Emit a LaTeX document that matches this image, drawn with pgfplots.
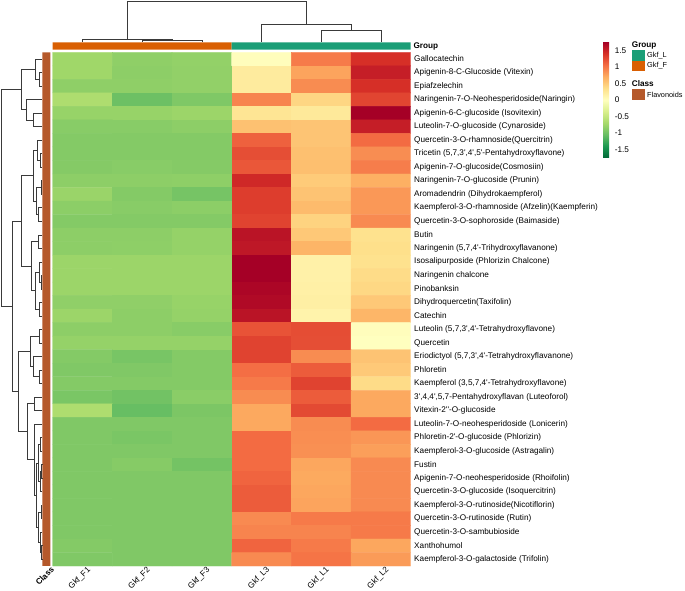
\documentclass[border=0pt]{standalone}
\usepackage{fontspec}
\setmainfont{Liberation Sans}[Ligatures=TeXOff]
\usepackage{pgfplots}
\usepackage{pgfplotstable}
\pgfplotsset{compat=1.18}

\definecolor{grpF}{HTML}{D95F02}
\definecolor{grpL}{HTML}{1B9E77}
\definecolor{clsF}{HTML}{B5592B}
\definecolor{dend}{HTML}{3A3A3A}

\newcommand{\lab}{\fontsize{8.2}{9.5}\selectfont}
\newcommand{\leg}{\fontsize{7.3}{8.5}\selectfont}

\pgfplotsset{
  bare/.style={scale only axis, hide axis, enlargelimits=false, clip=false},
}

% one merge of a dendrogram: child1 (x,y), child2 (x,y), merge height
\newcommand{\mrg}[5]{\addplot[dend, line width=0.6pt] coordinates {(#1,#2) (#5,#2) (#5,#4) (#3,#4)};}
\newcommand{\cmrg}[5]{\addplot[dend, line width=0.6pt] coordinates {(#1,#2) (#1,#5) (#3,#5) (#3,#4)};}

% heatmap: column, row, scaled value
\pgfplotstableread{
x y c
1 1 -0.734
2 1 -0.829
3 1 -0.807
4 1 0.023
5 1 0.98
6 1 1.415
1 2 -0.734
2 2 -0.841
3 2 -0.812
4 2 0.227
5 2 0.758
6 2 1.54
1 3 -0.829
2 3 -0.829
3 3 -0.812
4 3 0.227
5 3 0.888
6 3 1.415
1 4 -0.645
2 4 -1.015
3 4 -0.919
4 4 0.931
5 4 0.422
6 4 1.287
1 5 -0.784
2 5 -0.784
3 5 -0.756
4 5 0.295
5 5 0.25
6 5 1.76
1 6 -0.869
2 6 -0.869
3 6 -0.841
4 6 0.571
5 6 0.55
6 6 1.54
1 7 -0.891
2 7 -0.891
3 7 -0.891
4 7 1.125
5 7 0.55
6 7 1.068
1 8 -0.891
2 8 -0.891
3 8 -0.891
4 8 1.235
5 8 0.578
6 8 0.883
1 9 -0.886
2 9 -0.869
3 9 -0.886
4 9 1.183
5 9 0.585
6 9 0.969
1 10 -0.841
2 10 -0.841
3 10 -0.835
4 10 1.467
5 10 0.5
6 10 0.69
1 11 -0.767
2 11 -0.891
3 11 -0.97
4 11 1.333
5 11 0.557
6 11 0.823
1 12 -0.846
2 12 -0.869
3 12 -0.846
4 12 1.333
5 12 0.613
6 12 0.823
1 13 -0.891
2 13 -0.891
3 13 -0.891
4 13 1.298
5 13 0.444
6 13 0.899
1 14 -0.841
2 14 -0.841
3 14 -0.796
4 14 1.613
5 14 0.522
6 14 0.33
1 15 -0.841
2 15 -0.835
3 15 -0.796
4 15 1.584
5 15 0.655
6 15 0.352
1 16 -0.756
2 16 -0.756
3 16 -0.756
4 16 1.76
5 16 0.159
6 16 0.33
1 17 -0.756
2 17 -0.756
3 17 -0.756
4 17 1.76
5 17 0.159
6 17 0.38
1 18 -0.756
2 18 -0.756
3 18 -0.756
4 18 1.716
5 18 0.17
6 18 0.408
1 19 -0.824
2 19 -0.824
3 19 -0.784
4 19 1.687
5 19 0.182
6 19 0.522
1 20 -0.756
2 20 -0.841
3 20 -0.796
4 20 1.613
5 20 0.136
6 20 0.648
1 21 -0.841
2 21 -0.841
3 21 -0.869
4 21 1.206
5 21 1.24
6 21 0.023
1 22 -0.796
2 22 -0.796
3 22 -0.796
4 22 1.298
5 22 1.235
6 22 0.0
1 23 -0.891
2 23 -0.959
3 23 -0.891
4 23 1.298
5 23 0.888
6 23 0.557
1 24 -0.914
2 24 -0.914
3 24 -0.891
4 24 1.05
5 24 1.154
6 24 0.515
1 25 -0.891
2 25 -0.891
3 25 -0.891
4 25 0.985
5 25 1.298
6 25 0.38
1 26 -0.947
2 26 -0.992
3 26 -0.857
4 26 0.888
5 26 1.154
6 26 0.731
1 27 -0.645
2 27 -1.049
3 27 -0.936
4 27 0.731
5 27 1.258
6 27 0.731
1 28 -0.914
2 28 -0.914
3 28 -0.914
4 28 0.731
5 28 0.888
6 28 1.068
1 29 -0.914
2 29 -0.947
3 29 -0.914
4 29 1.068
5 29 0.877
6 29 0.834
1 30 -0.914
2 30 -0.914
3 30 -0.914
4 30 1.068
5 30 0.866
6 30 0.785
1 31 -0.914
2 31 -0.88
3 31 -0.981
4 31 1.068
5 31 0.742
6 31 0.899
1 32 -0.914
2 32 -0.914
3 32 -0.914
4 32 1.108
5 32 0.726
6 32 0.899
1 33 -0.914
2 33 -0.914
3 33 -0.914
4 33 1.154
5 33 0.742
6 33 0.899
1 34 -0.914
2 34 -0.914
3 34 -0.914
4 34 1.154
5 34 0.758
6 34 0.899
1 35 -0.914
2 35 -0.914
3 35 -0.914
4 35 0.899
5 35 0.985
6 35 0.985
1 36 -0.914
2 36 -0.914
3 36 -0.914
4 36 0.931
5 36 0.931
6 36 0.985
1 37 -0.891
2 37 -0.914
3 37 -0.914
4 37 1.108
5 37 0.985
6 37 0.742
1 38 -0.914
2 38 -0.914
3 38 -0.914
4 38 0.899
5 38 1.018
6 38 0.807
}\heat

\begin{document}
\begin{tikzpicture}[font=\lab]
\useasboundingbox (0,0) rectangle (685pt,591pt);

% heatmap
\begin{axis}[
  at={(52.7pt,25pt)}, anchor=south west,
  scale only axis, width=358pt, height=513.7pt,
  xmin=0.5, xmax=6.5, ymin=0.5, ymax=38.5, y dir=reverse,
  enlargelimits=false,
  axis line style={draw=none}, major tick length=0pt,
  colormap={rdylgn}{rgb255=(0,104,55) rgb255=(26,152,80) rgb255=(102,189,99)
    rgb255=(166,217,106) rgb255=(217,239,139) rgb255=(255,255,191)
    rgb255=(254,224,139) rgb255=(253,174,97) rgb255=(244,109,67)
    rgb255=(215,48,39) rgb255=(165,0,38)},
  point meta min=-1.76, point meta max=1.76,
  xtick={1,...,6},
  xticklabels={Gkf\_F1,Gkf\_F2,Gkf\_F3,Gkf\_L3,Gkf\_L1,Gkf\_L2},
  xticklabel style={font=\lab, inner sep=0pt, xshift=4pt, yshift=0pt, rotate=45, anchor=north east},
  ytick={1,...,38},
  yticklabel pos=right,
  yticklabel style={font=\lab, anchor=west},
  yticklabels={
    Gallocatechin,
    Apigenin-8-C-Glucoside (Vitexin),
    Epiafzelechin,
    Naringenin-7-O-Neohesperidoside(Naringin),
    Apigenin-6-C-glucoside (Isovitexin),
    Luteolin-7-O-glucoside (Cynaroside),
    Quercetin-3-O-rhamnoside(Quercitrin),
    {Tricetin (5,7,3',4',5'-Pentahydroxyflavone)},
    Apigenin-7-O-glucoside(Cosmosiin),
    Naringenin-7-O-glucoside (Prunin),
    Aromadendrin (Dihydrokaempferol),
    Kaempferol-3-O-rhamnoside (Afzelin)(Kaempferin),
    Quercetin-3-O-sophoroside (Baimaside),
    Butin,
    {Naringenin (5,7,4'-Trihydroxyflavanone)},
    Isosalipurposide (Phlorizin Chalcone),
    Naringenin chalcone,
    Pinobanksin,
    Dihydroquercetin(Taxifolin),
    Catechin,
    {Luteolin (5,7,3',4'-Tetrahydroxyflavone)},
    Quercetin,
    {Eriodictyol (5,7,3',4'-Tetrahydroxyflavanone)},
    Phloretin,
    {Kaempferol (3,5,7,4'-Tetrahydroxyflavone)},
    {3',4,4',5,7-Pentahydroxyflavan (Luteoforol)},
    Vitexin-2''-O-glucoside,
    Luteolin-7-O-neohesperidoside (Lonicerin),
    Phloretin-2'-O-glucoside (Phlorizin),
    Kaempferol-3-O-glucoside (Astragalin),
    Fustin,
    Apigenin-7-O-neohesperidoside (Rhoifolin),
    Quercetin-3-O-glucoside (Isoquercitrin),
    Kaempferol-3-O-rutinoside(Nicotiflorin),
    Quercetin-3-O-rutinoside (Rutin),
    Quercetin-3-O-sambubioside,
    Xanthohumol,
    Kaempferol-3-O-galactoside (Trifolin)
  },
  colorbar,
  colorbar style={
    at={(parent axis.north east)}, anchor=north west,
    xshift=183.8pt, yshift=10.3pt,
    scale only axis, width=6pt, height=116pt,
    axis line style={draw=none}, major tick length=0pt,
    ytick={-1.5,-1,-0.5,0,0.5,1,1.5},
    yticklabel style={font=\lab, xshift=2.3pt, /pgf/number format/assume math mode=true},
  },
]
\addplot[matrix plot*, mesh/cols=6, point meta=explicit] table[meta=c] {\heat};
\end{axis}

% group bar
\begin{axis}[bare, at={(52.7pt,541.3pt)}, anchor=south west,
  width=358pt, height=7.4pt, xmin=0.5, xmax=6.5, ymin=0, ymax=1]
\addplot[fill=grpF, draw=none] coordinates {(0.5,0) (0.5,1) (3.5,1) (3.5,0)} \closedcycle;
\addplot[fill=grpL, draw=none] coordinates {(3.5,0) (3.5,1) (6.5,1) (6.5,0)} \closedcycle;
\end{axis}

% class bar
\begin{axis}[bare, at={(42.3pt,25pt)}, anchor=south west,
  width=8pt, height=513.7pt, xmin=0, xmax=1, ymin=0, ymax=1]
\addplot[fill=clsF, draw=none] coordinates {(0,0) (0,1) (1,1) (1,0)} \closedcycle;
\end{axis}

% column dendrogram
\begin{axis}[bare, at={(52.7pt,549pt)}, anchor=south west,
  width=358pt, height=41pt, xmin=0.5, xmax=6.5, ymin=0, ymax=41]
\cmrg{2}{0}{3}{0}{1.3}
\cmrg{1}{0}{2.5}{1.3}{2.7}
\cmrg{5}{0}{6}{0}{11.7}
\cmrg{4}{0}{5.5}{11.7}{17.7}
\cmrg{1.75}{2.7}{4.75}{17.7}{41}
\end{axis}

% row dendrogram
\begin{axis}[bare, at={(0pt,25pt)}, anchor=south west,
  width=42pt, height=513.7pt, xmin=0, xmax=42, ymin=0.5, ymax=38.5, y dir=reverse]
\mrg{42}{2}{42}{3}{39.3}
\mrg{42}{1}{39.3}{2.5}{35}
\mrg{42}{5}{42}{6}{33.3}
\mrg{42}{4}{33.3}{5.5}{26.7}
\mrg{35}{1.75}{26.7}{4.75}{21.7}
\mrg{42}{8}{42}{9}{40.5}
\mrg{42}{7}{40.5}{8.5}{37.3}
\mrg{42}{10}{42}{11}{41}
\mrg{42}{12}{42}{13}{38.3}
\mrg{41}{10.5}{38.3}{12.5}{36.7}
\mrg{37.3}{7.75}{36.7}{11.5}{33.3}
\mrg{42}{14}{42}{15}{38.3}
\mrg{42}{17}{42}{18}{41}
\mrg{42}{16}{41}{17.5}{39.3}
\mrg{42}{19}{42}{20}{39.3}
\mrg{39.3}{16.75}{39.3}{19.5}{35}
\mrg{38.3}{14.5}{35}{18.125}{31}
\mrg{33.3}{9.625}{31}{16.3125}{21.7}
\mrg{42}{21}{42}{22}{39.3}
\mrg{42}{24}{42}{25}{39.3}
\mrg{42}{23}{39.3}{24.5}{33.3}
\mrg{39.3}{21.5}{33.3}{23.75}{30}
\mrg{42}{26}{42}{27}{34.3}
\mrg{42}{29}{42}{30}{40.5}
\mrg{42}{31}{42}{32}{41.5}
\mrg{41.5}{31.5}{42}{33}{40.5}
\mrg{40.5}{29.5}{40.5}{32.25}{38.5}
\mrg{42}{34}{42}{35}{41}
\mrg{42}{37}{42}{38}{41.5}
\mrg{42}{36}{41.5}{37.5}{40}
\mrg{41}{34.5}{40}{36.75}{38}
\mrg{38.5}{30.875}{38}{35.625}{36.5}
\mrg{42}{28}{36.5}{33.25}{34.3}
\mrg{34.3}{26.5}{34.3}{30.625}{27.7}
\mrg{30}{22.625}{27.7}{28.5625}{18.3}
\mrg{21.7}{12.97}{18.3}{25.59}{12.7}
\mrg{21.7}{3.25}{12.7}{19.28}{1}
\end{axis}

% annotation labels and legend
\node[anchor=west, inner sep=0pt, font=\lab\bfseries] at (413.3pt,545pt) {Group};
\node[anchor=north east, inner sep=0pt, rotate=45, font=\lab\bfseries] at (50.3pt,25pt) {Class};
\node[anchor=west, inner sep=0pt, font=\lab\bfseries] at (631.7pt,546pt) {Group};
\fill[grpL] (631.7pt,530.3pt) rectangle (645pt,540.5pt);
\fill[grpF] (631.7pt,519.8pt) rectangle (645pt,530.3pt);
\node[anchor=west, inner sep=0pt, font=\leg] at (647pt,535.4pt) {Gkf\_L};
\node[anchor=west, inner sep=0pt, font=\leg] at (647pt,525pt) {Gkf\_F};
\node[anchor=west, inner sep=0pt, font=\lab\bfseries] at (631.7pt,507.7pt) {Class};
\fill[clsF] (631.7pt,491pt) rectangle (645pt,502pt);
\node[anchor=west, inner sep=0pt, font=\leg] at (647pt,496.5pt) {Flavonoids};
\end{tikzpicture}
\end{document}
